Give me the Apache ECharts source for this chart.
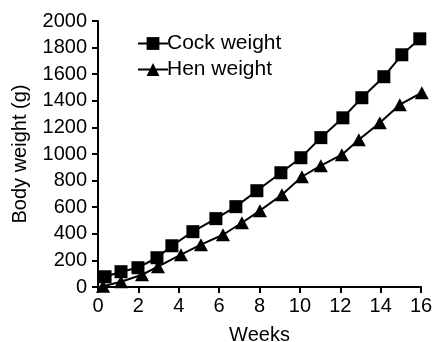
<!DOCTYPE html>
<html>
<head>
<meta charset="utf-8">
<script src="https://cdn.jsdelivr.net/npm/echarts@6/dist/echarts.min.js"></script>
<style>html,body{margin:0;padding:0;background:#fff}#c{width:433px;height:342px}</style>
</head>
<body>
<div id="c"></div>
<script>
const cockWeeks = [0.35,1.14,1.98,2.92,3.66,4.70,5.84,6.83,7.87,9.06,10.05,11.04,12.13,13.07,14.16,15.05,15.94];
const cockWeight = [77,115,145,220,310,416,514,604,724,859,972,1123,1272,1423,1581,1746,1866];
const henWeeks = [0.25,1.14,2.18,2.97,4.11,5.10,6.19,7.13,8.02,9.11,10.10,11.04,12.08,12.92,13.96,14.95,16.04];
const henWeight = [5,40,92,153,243,318,393,483,574,694,829,912,995,1107,1235,1371,1461];
const xTicks = [0,2,4,6,8,10,12,14,16];
const yTicks = [0,200,400,600,800,1000,1200,1400,1600,1800,2000];

const font = 'Liberation Sans';
const chart = echarts.init(document.getElementById('c'), null, {renderer:'canvas'});
const axisCommon = {
  axisLine:{show:true,lineStyle:{color:'#000',width:2}},
  axisTick:{show:true,length:6,lineStyle:{color:'#000',width:2}},
  splitLine:{show:false},
  axisLabel:{color:'#000',fontFamily:font,fontSize:20,formatter:v=>String(v)},
  nameTextStyle:{color:'#000',fontFamily:font,fontSize:20}
};
chart.setOption({
  animation:false,
  grid:{left:98,right:12,top:21,bottom:55,outerBoundsMode:'none',containLabel:false},
  legend:{
    left:132, top:28, orient:'vertical', itemGap:5, itemWidth:30, itemHeight:16,
    textStyle:{color:'#000',fontFamily:font,fontSize:21,padding:[0,0,0,-6]},
    data:['Cock weight','Hen weight']
  },
  xAxis:Object.assign({}, axisCommon, {
    type:'value', min:xTicks[0], max:xTicks[xTicks.length-1], interval:2,
    name:'Weeks', nameLocation:'middle', nameGap:38,
    axisLabel:Object.assign({}, axisCommon.axisLabel, {margin:9})
  }),
  yAxis:Object.assign({}, axisCommon, {
    type:'value', min:yTicks[0], max:yTicks[yTicks.length-1], interval:200,
    name:'Body weight (g)', nameLocation:'middle', nameGap:68,
    axisLabel:Object.assign({}, axisCommon.axisLabel, {margin:11})
  }),
  series:[
    {name:'Cock weight', type:'line', clip:false, data:cockWeeks.map((w,i)=>[w,cockWeight[i]]),
     symbol:'rect', symbolSize:13, lineStyle:{color:'#000',width:2}, itemStyle:{color:'#000'}},
    {name:'Hen weight', type:'line', clip:false, data:henWeeks.map((w,i)=>[w,henWeight[i]]),
     symbol:'triangle', symbolSize:[14,13], lineStyle:{color:'#000',width:2}, itemStyle:{color:'#000'}}
  ]
});
</script>
</body>
</html>
